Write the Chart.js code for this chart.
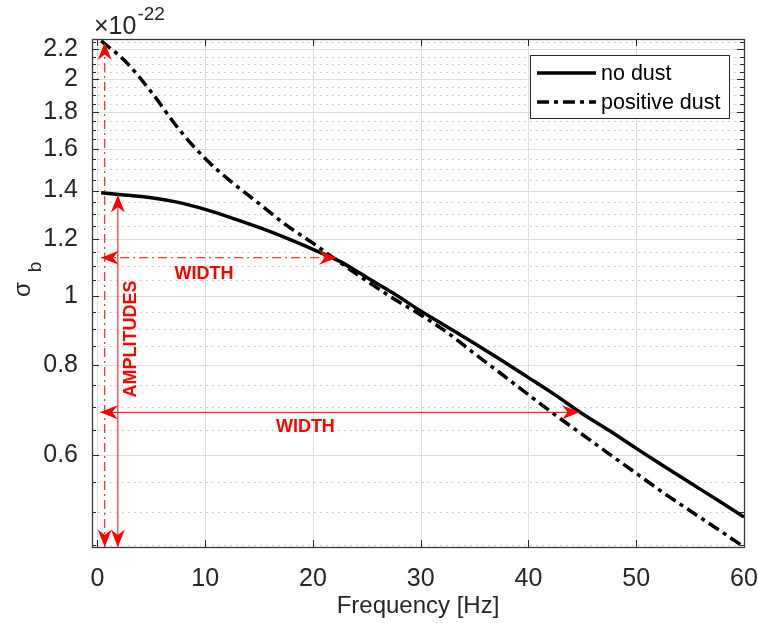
<!DOCTYPE html>
<html><head><meta charset="utf-8">
<script src="https://cdn.jsdelivr.net/npm/chart.js@4/dist/chart.umd.min.js"></script>
<style>html,body{margin:0;padding:0;background:#fff;}#wrap{width:758px;height:623px;}</style>
</head><body><div id="wrap"><canvas id="c" width="758" height="623"></canvas></div>
<script>
// ---- data ----
const frequency = [0.35, 2.5, 5, 7.5, 10, 12.5, 15, 17.5, 20, 22.5, 25, 27.5, 30, 32.5, 35, 37.5, 40, 42.5, 45, 47.5, 50, 52.5, 55, 57.5, 60];
const noDust = [1.390, 1.380, 1.368, 1.348, 1.318, 1.282, 1.244, 1.203, 1.160, 1.116, 1.060, 1.007, 0.952, 0.904, 0.858, 0.813, 0.769, 0.727, 0.685, 0.649, 0.613, 0.580, 0.549, 0.520, 0.492];
const positiveDust = [2.262, 2.125, 1.920, 1.709, 1.551, 1.437, 1.343, 1.254, 1.183, 1.112, 1.048, 0.990, 0.940, 0.888, 0.830, 0.778, 0.728, 0.682, 0.641, 0.602, 0.566, 0.532, 0.502, 0.474, 0.447];
const seriesNames = ['no dust', 'positive dust'];
const xTickValues = [0, 10, 20, 30, 40, 50, 60];
const yMajorTicks = [0.6, 0.8, 1, 1.2, 1.4, 1.6, 1.8, 2, 2.2];
const yMinorTicks = [0.45, 0.5, 0.55, 0.65, 0.7, 0.75, 0.85, 0.9, 0.95, 1.05, 1.1, 1.15, 1.25, 1.3, 1.35, 1.45, 1.5, 1.55, 1.65, 1.7, 1.75, 1.85, 1.9, 1.95, 2.05, 2.1, 2.15, 2.25];
const xRange = [-0.5, 60];
const yRange = [0.447, 2.275];
const yExponentText = ['\u00d710', '-22'];
// annotation arrows (frequency, sigma) start -> end
const arrowX1 = [0.68, 1.9, 0.35, 0.26];
const arrowY1 = [0.447, 0.447, 1.129, 0.688];
const arrowX2 = [0.68, 1.9, 22.2, 44.75];
const arrowY2 = [2.25, 1.38, 1.129, 0.688];
const arrowDashed = [true, false, true, false];
const noteText = ['WIDTH', 'WIDTH', 'AMPLITUDES'];
const noteX = [9.9, 19.3, 3.07];
const noteY = [1.075, 0.658, 0.870];
const noteVertical = [false, false, true];

const FONT = '"Liberation Sans", Arial, Helvetica, sans-serif';
const TXT = '#262626';
const DASH = [12, 5, 4, 5];
Chart.defaults.font.family = FONT;

const isMajorY = v => yMajorTicks.some(m => Math.abs(m - v) < 1e-9);

const gridPlugin = {
  id: 'matlabGrid',
  beforeDatasetsDraw(chart) {
    const {ctx, chartArea: a, scales: {x, y}} = chart;
    ctx.save();
    ctx.beginPath(); ctx.rect(a.left, a.top, a.right - a.left, a.bottom - a.top); ctx.clip();
    ctx.lineWidth = 1;
    ctx.strokeStyle = '#c2c2c2'; ctx.setLineDash([1.5, 4.5]);
    y.ticks.forEach(t => {
      if (isMajorY(t.value)) return;
      const p = Math.round(y.getPixelForValue(t.value)) + 0.5;
      ctx.beginPath(); ctx.moveTo(a.left, p); ctx.lineTo(a.right, p); ctx.stroke();
    });
    ctx.setLineDash([]); ctx.strokeStyle = '#dedede';
    y.ticks.forEach(t => {
      if (!isMajorY(t.value)) return;
      const p = Math.round(y.getPixelForValue(t.value)) + 0.5;
      ctx.beginPath(); ctx.moveTo(a.left, p); ctx.lineTo(a.right, p); ctx.stroke();
    });
    x.ticks.forEach(t => {
      const p = Math.round(x.getPixelForValue(t.value)) + 0.5;
      ctx.beginPath(); ctx.moveTo(p, a.top); ctx.lineTo(p, a.bottom); ctx.stroke();
    });
    ctx.restore();
    ctx.save();
    ctx.strokeStyle = TXT; ctx.lineWidth = 1;
    y.ticks.forEach(t => {
      const p = Math.round(y.getPixelForValue(t.value)) + 0.5;
      const L = isMajorY(t.value) ? 7 : 4;
      ctx.beginPath(); ctx.moveTo(a.left, p); ctx.lineTo(a.left + L, p);
      ctx.moveTo(a.right, p); ctx.lineTo(a.right - L, p); ctx.stroke();
    });
    x.ticks.forEach(t => {
      const p = Math.round(x.getPixelForValue(t.value)) + 0.5;
      ctx.beginPath(); ctx.moveTo(p, a.bottom); ctx.lineTo(p, a.bottom - 7);
      ctx.moveTo(p, a.top); ctx.lineTo(p, a.top + 7); ctx.stroke();
    });
    ctx.strokeStyle = '#3a3a3a'; ctx.lineWidth = 1.3;
    ctx.strokeRect(Math.round(a.left) + 0.5, Math.round(a.top) + 0.5, Math.round(a.right - a.left), Math.round(a.bottom - a.top));
    ctx.restore();
  }
};

function arrowHead(ctx, tx, ty, ang) {
  const L = 17.5, W = 7, N = 5.5;
  ctx.save(); ctx.translate(tx, ty); ctx.rotate(ang);
  ctx.beginPath(); ctx.moveTo(0, 0); ctx.lineTo(-L, -W); ctx.lineTo(-L + N, 0); ctx.lineTo(-L, W); ctx.closePath(); ctx.fill();
  ctx.restore();
}

const annotationPlugin = {
  id: 'redNotes',
  afterDatasetsDraw(chart) {
    const {ctx, scales: {x, y}} = chart;
    ctx.save();
    ctx.strokeStyle = '#ff0000'; ctx.fillStyle = '#ff0000'; ctx.lineWidth = 1;
    for (let i = 0; i < arrowX1.length; i++) {
      const x1 = x.getPixelForValue(arrowX1[i]), y1 = y.getPixelForValue(arrowY1[i]);
      const x2 = x.getPixelForValue(arrowX2[i]), y2 = y.getPixelForValue(arrowY2[i]);
      ctx.setLineDash(arrowDashed[i] ? [9, 4, 2, 4] : []);
      ctx.beginPath(); ctx.moveTo(x1, y1); ctx.lineTo(x2, y2); ctx.stroke();
      ctx.setLineDash([]);
      const ang = Math.atan2(y2 - y1, x2 - x1);
      arrowHead(ctx, x2, y2, ang);
      arrowHead(ctx, x1, y1, ang + Math.PI);
    }
    ctx.font = 'bold 18px ' + FONT;
    ctx.textAlign = 'center'; ctx.textBaseline = 'middle';
    for (let i = 0; i < noteText.length; i++) {
      const px = x.getPixelForValue(noteX[i]), py = y.getPixelForValue(noteY[i]);
      ctx.save(); ctx.translate(px, py);
      if (noteVertical[i]) ctx.rotate(-Math.PI / 2);
      ctx.fillText(noteText[i], 0, 1);
      ctx.restore();
    }
    ctx.restore();
  },
  afterDraw(chart) {
    const {ctx} = chart;
    ctx.save();
    ctx.fillStyle = TXT;
    ctx.translate(30, 297); ctx.rotate(-Math.PI / 2);
    ctx.font = '24px ' + FONT; ctx.textBaseline = 'alphabetic'; ctx.textAlign = 'left';
    ctx.fillText('\u03c3', 0, 0);
    const w = ctx.measureText('\u03c3').width;
    ctx.font = '19px ' + FONT;
    ctx.fillText('b', w + 10, 11);
    ctx.restore();
    ctx.save();
    ctx.fillStyle = TXT; ctx.textAlign = 'left'; ctx.textBaseline = 'alphabetic';
    ctx.font = '25px ' + FONT;
    ctx.fillText(yExponentText[0], 94, 34);
    const w2 = ctx.measureText(yExponentText[0]).width;
    ctx.font = '19px ' + FONT;
    ctx.fillText(yExponentText[1], 94 + w2 + 1, 20);
    ctx.restore();
    ctx.save();
    const bx = 530.5, by = 55.5, bw = 199, bh = 63;
    ctx.fillStyle = '#fff'; ctx.fillRect(bx, by, bw, bh);
    ctx.strokeStyle = TXT; ctx.lineWidth = 1; ctx.strokeRect(bx, by, bw, bh);
    const rows = [73, 102];
    chart.data.datasets.forEach((ds, i) => {
      ctx.strokeStyle = '#000'; ctx.lineWidth = 3.5; ctx.lineCap = 'butt';
      ctx.setLineDash(ds.borderDash || []);
      ctx.beginPath(); ctx.moveTo(537, rows[i]); ctx.lineTo(596, rows[i]); ctx.stroke();
      ctx.setLineDash([]);
      ctx.fillStyle = '#000'; ctx.font = '21.5px ' + FONT; ctx.textBaseline = 'middle'; ctx.textAlign = 'left';
      ctx.fillText(ds.label, 601, rows[i] + 1);
    });
    ctx.restore();
  }
};

new Chart(document.getElementById('c'), {
  type: 'line',
  data: {
    datasets: [
      {label: seriesNames[0], data: frequency.map((f, i) => ({x: f, y: noDust[i]})), borderColor: '#000', borderWidth: 3.5, pointRadius: 0, cubicInterpolationMode: 'monotone', fill: false},
      {label: seriesNames[1], data: frequency.map((f, i) => ({x: f, y: positiveDust[i]})), borderColor: '#000', borderWidth: 3.5, borderDash: DASH, pointRadius: 0, cubicInterpolationMode: 'monotone', fill: false}
    ]
  },
  options: {
    responsive: false, animation: false, devicePixelRatio: 1,
    layout: {padding: {top: 39, right: 0, left: 0, bottom: 0}},
    plugins: {legend: {display: false}, tooltip: {enabled: false}},
    scales: {
      x: {
        type: 'linear', min: xRange[0], max: xRange[1],
        afterBuildTicks: s => { s.ticks = xTickValues.map(v => ({value: v})); },
        afterFit: s => { s.height = 76; s.paddingRight = 14; },
        grid: {display: false}, border: {display: false},
        ticks: {autoSkip: false, maxRotation: 0, padding: 9, color: TXT, font: {size: 25}, callback: v => String(v)},
        title: {display: true, text: 'Frequency [Hz]', color: TXT, font: {size: 24}, padding: {top: 0, bottom: 2}}
      },
      y: {
        type: 'logarithmic', min: yRange[0], max: yRange[1],
        afterBuildTicks: s => { s.ticks = yMajorTicks.concat(yMinorTicks).sort((a, b) => a - b).map(v => ({value: v})); },
        afterFit: s => { s.width = 92; },
        grid: {display: false}, border: {display: false},
        ticks: {autoSkip: false, padding: 6, color: TXT, font: {size: 25}, callback: v => isMajorY(v) ? String(v) : ''}
      }
    }
  },
  plugins: [gridPlugin, annotationPlugin]
});
</script>
</body></html>
